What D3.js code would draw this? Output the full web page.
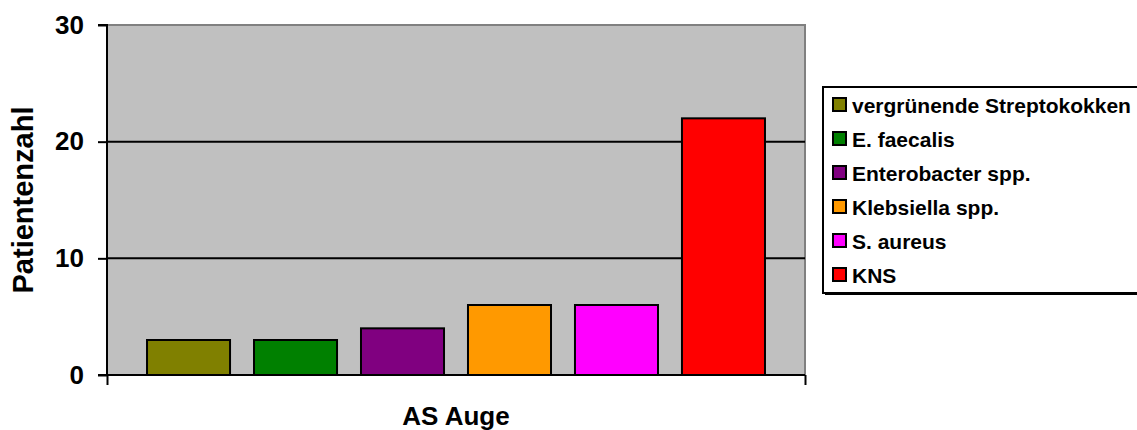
<!DOCTYPE html>
<html>
<head>
<meta charset="utf-8">
<script src="https://cdn.jsdelivr.net/npm/d3@7"></script>
<style>
  html, body { margin: 0; padding: 0; background: #ffffff; }
  svg { display: block; font-family: "Liberation Sans", Arial, sans-serif; font-weight: bold; }
</style>
</head>
<body>
<svg id="chart" width="1137" height="430"></svg>
<script>
// Erreger und Patientenzahl (eine Kategorie: AS Auge)
const series = ["vergrünende Streptokokken", "E. faecalis", "Enterobacter spp.", "Klebsiella spp.", "S. aureus", "KNS"];
const values = [3, 3, 4, 6, 6, 22];
const colors = ["#808000", "#008000", "#800080", "#FF9900", "#FF00FF", "#FF0000"];
const yTicks = [0, 10, 20, 30];
const category = "AS Auge";
const yTitle = "Patientenzahl";

const svg = d3.select("#chart");
const plot = { left: 107, right: 805, top: 25, bottom: 375 };

const y = d3.scaleLinear().domain([0, 30]).range([plot.bottom, plot.top]);
const x = d3.scaleBand().domain(series)
  .range([plot.left, plot.right])
  .paddingInner(0.224)
  .paddingOuter(0.374);

// Plotfläche
svg.append("rect")
  .attr("x", plot.left).attr("y", plot.top)
  .attr("width", plot.right - plot.left).attr("height", plot.bottom - plot.top)
  .attr("fill", "#C0C0C0");

// Rahmen oben und rechts
svg.append("path")
  .attr("d", `M${plot.left},${plot.top}H${plot.right}V${plot.bottom}`)
  .attr("fill", "none").attr("stroke", "#808080").attr("stroke-width", 2);

// Gitterlinien
svg.append("g").selectAll("line")
  .data(yTicks.filter(t => t > 0 && t < 30))
  .join("line")
  .attr("x1", plot.left).attr("x2", plot.right)
  .attr("y1", d => y(d)).attr("y2", d => y(d))
  .attr("stroke", "#000").attr("stroke-width", 2);

// Balken
svg.append("g").selectAll("rect")
  .data(series)
  .join("rect")
  .attr("x", d => x(d))
  .attr("width", x.bandwidth())
  .attr("y", (d, i) => y(values[i]))
  .attr("height", (d, i) => y(0) - y(values[i]))
  .attr("fill", (d, i) => colors[i])
  .attr("stroke", "#000").attr("stroke-width", 2);

// Y-Achse
const yAxis = d3.axisLeft(y).tickValues(yTicks).tickSize(9).tickPadding(14).tickFormat(d3.format("d"));
const gy = svg.append("g").attr("transform", `translate(${plot.left},0)`).call(yAxis);
gy.select(".domain").attr("stroke", "#000").attr("stroke-width", 2).attr("d", `M-9,${plot.top}H0V${plot.bottom}H-9`);
gy.selectAll(".tick line").attr("stroke", "#000").attr("stroke-width", 2);
gy.selectAll(".tick text").attr("font-size", 26).attr("font-weight", "bold").attr("fill", "#000")
  .attr("font-family", "Liberation Sans, Arial, sans-serif");

// X-Achse (eine Kategorie mit Teilstrichen an den Rändern)
const xCat = d3.scalePoint().domain(["a", "b"]).range([plot.left, plot.right]);
const xAxis = d3.axisBottom(xCat).tickSize(10).tickFormat("");
const gx = svg.append("g").attr("transform", `translate(0,${plot.bottom})`).call(xAxis);
gx.select(".domain").attr("stroke", "#000").attr("stroke-width", 2).attr("d", `M${plot.left},0H${plot.right}`);
gx.selectAll(".tick line").attr("stroke", "#000").attr("stroke-width", 2);

// Achsentitel
svg.append("text")
  .attr("x", (plot.left + plot.right) / 2).attr("y", 425)
  .attr("text-anchor", "middle").attr("font-size", 26).attr("fill", "#000")
  .text(category);

svg.append("text")
  .attr("transform", `translate(33,${(plot.top + plot.bottom) / 2}) rotate(-90)`)
  .attr("text-anchor", "middle").attr("font-size", 29).attr("fill", "#000")
  .text(yTitle);

// Legende
const legend = { x: 823, y: 87, w: 330, h: 206, row: 34 };
svg.append("rect")
  .attr("x", legend.x + 2).attr("y", legend.y + 2)
  .attr("width", legend.w).attr("height", legend.h)
  .attr("fill", "#000");
svg.append("rect")
  .attr("x", legend.x).attr("y", legend.y)
  .attr("width", legend.w).attr("height", legend.h)
  .attr("fill", "#fff").attr("stroke", "#000").attr("stroke-width", 2);

const items = svg.append("g").selectAll("g")
  .data(series)
  .join("g")
  .attr("transform", (d, i) => `translate(${legend.x}, ${legend.y + 18 + i * legend.row})`);
items.append("rect")
  .attr("x", 10).attr("y", -7).attr("width", 13).attr("height", 13)
  .attr("fill", (d, i) => colors[i]).attr("stroke", "#000").attr("stroke-width", 2);
items.append("text")
  .attr("x", 29).attr("y", 0).attr("dy", "0.36em")
  .attr("font-size", 21).attr("fill", "#000")
  .text(d => d);
</script>
</body>
</html>
